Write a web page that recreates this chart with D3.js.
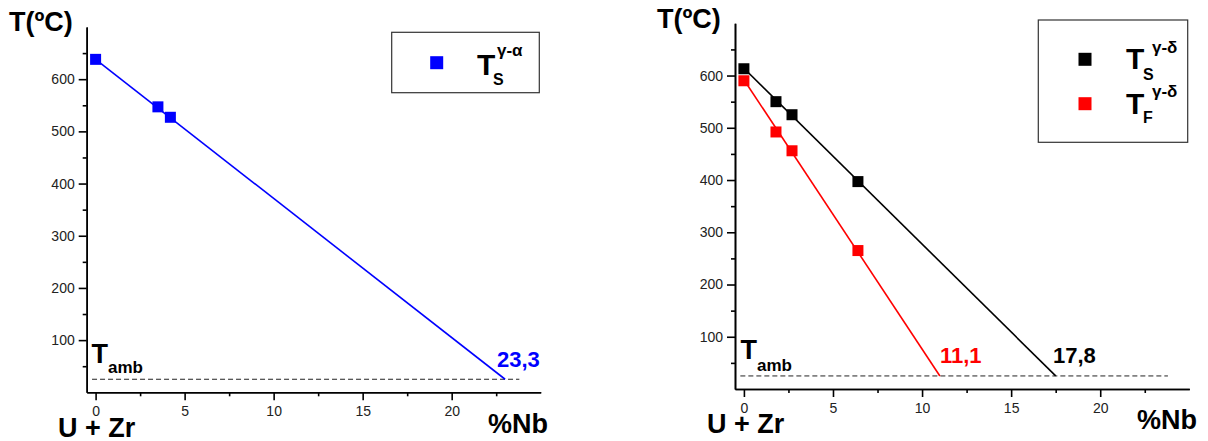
<!DOCTYPE html>
<html lang="en">
<head>
<meta charset="utf-8">
<title></title>
<script src="https://d3js.org/d3.v7.min.js"></script>
<style>
  body { margin: 0; background: #fff; }
  svg text { font-family: "Liberation Sans", Arial, sans-serif; }
  .axis path, .axis line { stroke: #000; stroke-width: 1.6; }
  .axis text { font-size: 14px; fill: #222; }
</style>
</head>
<body>
<div id="chart"></div>
<script>

  // left panel: T_S gamma->alpha
  var nbGA = [0, 3.5, 4.2];
  var tsGA = [638, 547, 527];
  var fitGA = [[0, 638], [23.0, 25]];

  // right panel: T_S and T_F gamma->delta
  var nbGD = [0, 1.8, 2.7, 6.4];
  var tsGD = [613, 550, 525, 397];
  var tfGD = [590, 492, 456, 265];
  var fitS = [[0, 614], [17.5, 25]];
  var fitF = [[0, 592], [11.0, 25]];

  var tAmb = 25;
  var ambRange = [-0.2, 23.8];

  var yMajor = [100, 200, 300, 400, 500, 600];
  var yMinor = [50, 150, 250, 350, 450, 550, 650];
  var xMajor = [0, 5, 10, 15, 20];
  var xMinor = [2.5, 7.5, 12.5, 17.5, 22.5];
  var xDomain = [-0.5, 25];
  var yDomain = [0, 700];

  var width = 1208;
  var height = 441;

  var svg = d3.select("#chart")
    .append("svg")
    .attr("width", width)
    .attr("height", height);

  function txt(x, y, s, size, color, weight) {
    return svg.append("text")
      .attr("x", x)
      .attr("y", y)
      .attr("font-size", size)
      .attr("font-weight", weight || "bold")
      .attr("fill", color || "#000")
      .text(s);
  }

  function panel(p) {
    var xScale = d3.scaleLinear().domain(xDomain).range([p.x0, p.x1]);
    var yScale = d3.scaleLinear().domain(yDomain).range([p.y0, p.y1]);

    // axes, major + minor ticks
    svg.append("g").attr("class", "axis")
      .attr("transform", `translate(0,${p.y0})`)
      .call(d3.axisBottom(xScale).tickValues(xMajor).tickSize(8).tickSizeOuter(0).tickPadding(6));
    svg.append("g").attr("class", "axis")
      .attr("transform", `translate(0,${p.y0})`)
      .call(d3.axisBottom(xScale).tickValues(xMinor).tickSize(4).tickSizeOuter(0).tickFormat(""));
    svg.append("g").attr("class", "axis")
      .attr("transform", `translate(${p.x0},0)`)
      .call(d3.axisLeft(yScale).tickValues(yMajor).tickSize(8).tickSizeOuter(0).tickPadding(4));
    svg.append("g").attr("class", "axis")
      .attr("transform", `translate(${p.x0},0)`)
      .call(d3.axisLeft(yScale).tickValues(yMinor).tickSize(4).tickSizeOuter(0).tickFormat(""));

    // ambient temperature line
    svg.append("line")
      .attr("x1", xScale(ambRange[0]))
      .attr("x2", xScale(ambRange[1]))
      .attr("y1", yScale(tAmb))
      .attr("y2", yScale(tAmb))
      .attr("stroke", "#222")
      .attr("stroke-width", 1)
      .attr("stroke-dasharray", "5,3");

    var line = d3.line()
      .x(function(d){ return xScale(d[0]); })
      .y(function(d){ return yScale(d[1]); });

    p.series.forEach(function(s) {
      svg.append("path")
        .datum(s.fit)
        .attr("d", line)
        .attr("fill", "none")
        .attr("stroke", s.color)
        .attr("stroke-width", 1.6);

      svg.selectAll(null)
        .data(s.x)
        .enter()
        .append("rect")
          .attr("x", function(d){ return xScale(d) - 5.5; })
          .attr("y", function(d, i){ return yScale(s.y[i]) - 5.5; })
          .attr("width", 11)
          .attr("height", 11)
          .attr("fill", s.color);
    });
  }

  panel({
    x0: 86.7, x1: 540.7, y0: 392.3, y1: 27,
    series: [{x: nbGA, y: tsGA, fit: fitGA, color: "#0000ff"}]
  });

  panel({
    x0: 735, x1: 1189.3, y0: 389, y1: 23.3,
    series: [
      {x: nbGD, y: tsGD, fit: fitS, color: "#000000"},
      {x: nbGD, y: tfGD, fit: fitF, color: "#ff0000"}
    ]
  });

  // left labels
  txt(9, 31, "T(ºC)", 27);
  txt(58, 437, "U + Zr", 27);
  txt(488, 432.5, "%Nb", 27);
  txt(91.5, 362.7, "T", 27);
  txt(108, 373.3, "amb", 17);
  txt(497, 366.7, "23,3", 22, "#0000ff");

  svg.append("rect")
    .attr("x", 391.7).attr("y", 32.3).attr("width", 147.6).attr("height", 60.4)
    .attr("fill", "none").attr("stroke", "#333").attr("stroke-width", 1.2);
  svg.append("rect")
    .attr("x", 430.2).attr("y", 56.2).attr("width", 13).attr("height", 13)
    .attr("fill", "#0000ff");
  txt(477, 75, "T", 30);
  txt(493, 85, "S", 16);
  txt(497, 56, "γ-α", 17);

  // right labels
  txt(657, 28.3, "T(ºC)", 27);
  txt(707, 433, "U + Zr", 27);
  txt(1137, 429.3, "%Nb", 27);
  txt(740.5, 359.3, "T", 27);
  txt(757, 370.7, "amb", 17);
  txt(940, 363.3, "11,1", 22, "#ff0000");
  txt(1053, 363.3, "17,8", 22, "#000");

  svg.append("rect")
    .attr("x", 1038.3).attr("y", 20).attr("width", 149.4).attr("height", 122.3)
    .attr("fill", "none").attr("stroke", "#333").attr("stroke-width", 1.2);
  svg.append("rect")
    .attr("x", 1078.5).attr("y", 52.8).attr("width", 13).attr("height", 13)
    .attr("fill", "#000");
  svg.append("rect")
    .attr("x", 1078.5).attr("y", 97.2).attr("width", 13).attr("height", 13)
    .attr("fill", "#ff0000");
  txt(1126, 69.3, "T", 30);
  txt(1143, 80, "S", 16);
  txt(1152, 53.3, "γ-δ", 17);
  txt(1126, 114, "T", 30);
  txt(1143, 123.3, "F", 16);
  txt(1152, 97.3, "γ-δ", 17);

</script>
</body>
</html>
